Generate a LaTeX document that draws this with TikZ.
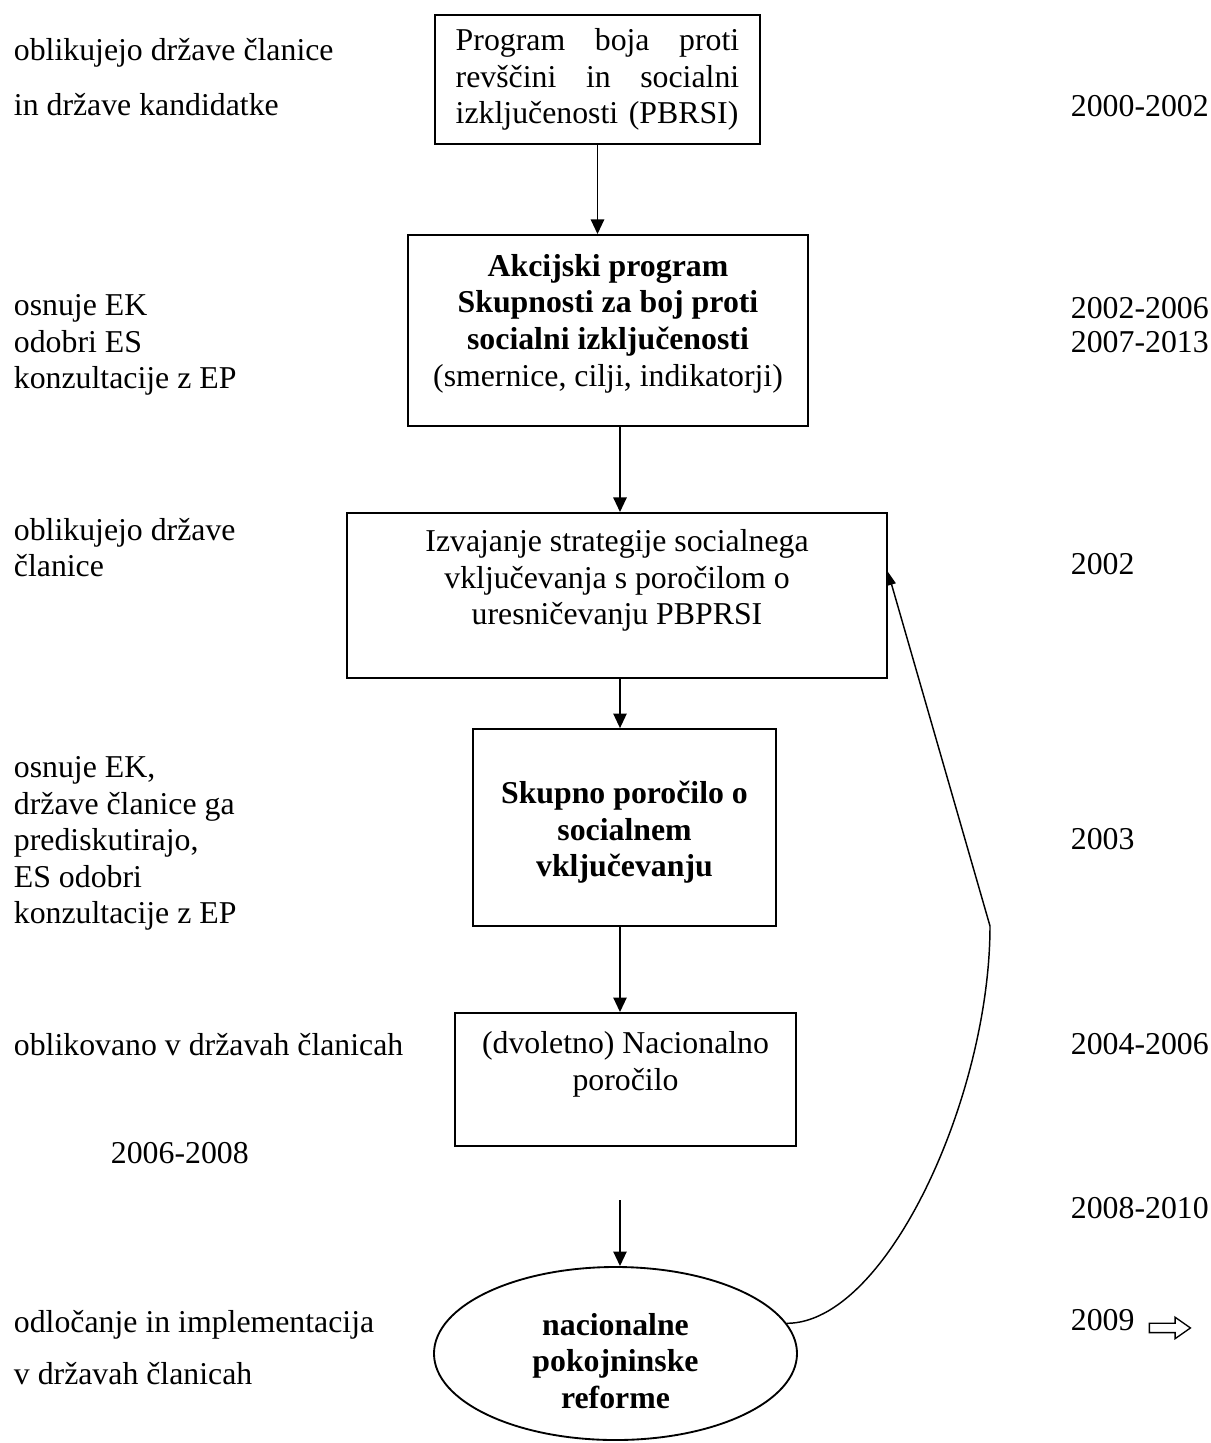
\documentclass[tikz,border=0pt]{standalone}
\usepackage{fontspec}
\setmainfont{Liberation Serif}
\usetikzlibrary{arrows.meta,shapes,positioning}
\tikzset{->, % every connector is directed
>={Triangle[length=5.5pt,width=5pt]}, % plain filled heads
every node/.style={font=\fontsize{12}{13.8}\selectfont}, % Times-like 12pt text
flowbox/.style={draw, line width=0.7pt, inner sep=4pt, align=center}, % boxes of the chain
}

\begin{document}
\begin{tikzpicture}[x=0.3774pt, y=-0.3774pt, line width=0.7pt,
	lbl/.style={anchor=west, inner sep=0pt, align=left}]
\useasboundingbox (0,0) rectangle (1211,1443);
\node[flowbox, align=left, text width=107pt, inner sep=2pt, minimum width=122.7pt, minimum height=48.7pt] (1) at (597.5,79.5)
	{Program\hfill boja\hfill proti\\ revščini\hfill in\hfill socialni\\ \mbox{izključenosti (PBRSI)}};
\node[flowbox, minimum width=151pt, minimum height=72.1pt] (2) at (608,330.5)
	{\textbf{Akcijski program}\\ \textbf{Skupnosti za boj proti}\\ \textbf{socialni izključenosti}\\ (smernice, cilji, indikatorji)\\[-6pt] \mbox{}};
\node[flowbox, minimum width=203.8pt, minimum height=62.3pt] (3) at (617,595.5)
	{Izvajanje strategije socialnega\\ vključevanja s poročilom o\\ uresničevanju PBPRSI\\ \mbox{}};
\node[flowbox, minimum width=114.4pt, minimum height=74.3pt] (4) at (624.5,827.5)
	{\mbox{}\\[-1.5pt] \textbf{Skupno poročilo o}\\ \textbf{socialnem}\\ \textbf{vključevanju}};
\node[flowbox, minimum width=128.7pt, minimum height=50.2pt] (5) at (625.5,1079.5)
	{(dvoletno) Nacionalno\\ poročilo\\ \mbox{}};
\node[flowbox, ellipse, inner sep=0pt, minimum width=137pt, minimum height=65.3pt] (6) at (615.5,1353.5)
	{\mbox{}\\ \textbf{nacionalne}\\ \textbf{pokojninske}\\ \textbf{reforme}};
% who does it
\node[lbl] (l1) at (13,77.5) {oblikujejo države članice\\[7pt]in države kandidatke};
\node[lbl] (l2) at (13,345) {osnuje EK\\ odobri ES\\ konzultacije z EP};
\node[lbl] (l3) at (13,547.5) {oblikujejo države\\ članice};
\node[lbl] (l4) at (13,843.5) {osnuje EK,\\ države članice ga\\ prediskutirajo,\\ ES odobri\\ konzultacije z EP};
\node[lbl] (l5) at (13,1045) {oblikovano v državah članicah};
\node[lbl] (l6) at (110,1153) {2006-2008};
\node[lbl] (l7) at (13,1347.5) {odločanje in implementacija\\[6pt]v državah članicah};
% when
\node[lbl] (y1) at (1070,106) {2000-2002};
\node[lbl] (y2) at (1070,325) {2002-2006\\[-1pt]2007-2013};
\node[lbl] (y3) at (1070,564) {2002};
\node[lbl] (y4) at (1070,839) {2003};
\node[lbl] (y5) at (1070,1044) {2004-2006};
\node[lbl] (y6) at (1070,1208) {2008-2010};
\node[lbl] (y7) at (1070,1320) {2009};
\node[single arrow, draw, line width=0.5pt, inner sep=1.5pt, minimum height=15.5pt,
	single arrow head extend=2.3pt, single arrow tip angle=70, right=5pt of y7, yshift=-3pt] (y7a) {};
\coordinate (ax) at (620,0);
\coordinate (a) at (620,1200);
\coordinate (k) at (990,926);
\draw (1) -- (1 |- 2.north);
\draw (ax |- 2.south) -- (ax |- 3.north);
\draw (ax |- 3.south) -- (ax |- 4.north);
\draw (ax |- 4.south) -- (ax |- 5.north);
\draw (a) -- (a |- 6.north);
\draw[line width=0.55pt, -{Triangle[length=5pt,width=3.2pt]}] (6.10) .. controls +(100,0) and +(0,170) .. (k) -- (3.5);
\end{tikzpicture}
\end{document}
